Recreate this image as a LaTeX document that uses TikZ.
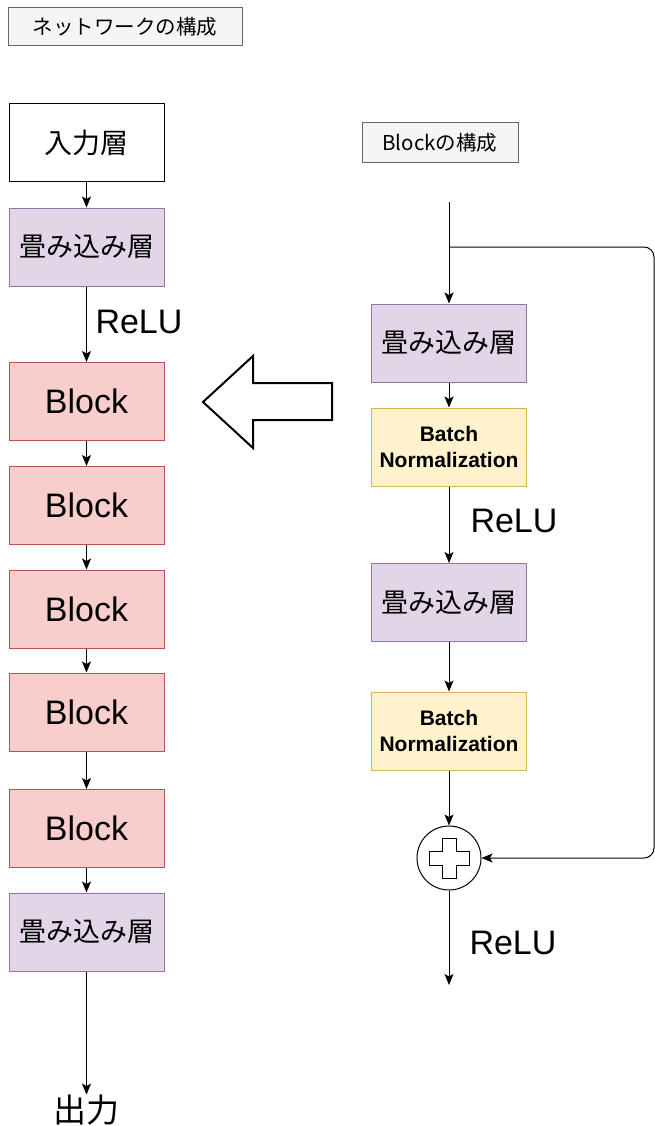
\documentclass[tikz,border=0pt]{standalone}
\usepackage{fontspec}
\setmainfont{Liberation Sans}
\newfontfamily\jp{Noto Sans CJK JP}
\usetikzlibrary{arrows.meta}
\definecolor{convfill}{HTML}{E1D5E7}
\definecolor{convdraw}{HTML}{9673A6}
\definecolor{blkfill}{HTML}{F8CECC}
\definecolor{blkdraw}{HTML}{B85450}
\definecolor{bnfill}{HTML}{FFF2CC}
\definecolor{bndraw}{HTML}{D6B656}
\definecolor{titlefill}{HTML}{F5F5F5}
\definecolor{titledraw}{HTML}{666666}
\tikzset{
  box/.style={draw, line width=1pt, minimum width=155pt, minimum height=78pt, inner sep=0pt, align=center},
  convbox/.style={box, fill=convfill, draw=convdraw, font=\jp\fontsize{27}{30}\selectfont},
  blkbox/.style={box, fill=blkfill, draw=blkdraw, font=\fontsize{34}{40}\selectfont},
  bnbox/.style={box, fill=bnfill, draw=bndraw, font=\bfseries\fontsize{21}{26}\selectfont},
  titlebox/.style={draw=titledraw, fill=titlefill, line width=1pt, inner sep=0pt, font=\jp\fontsize{20.5}{24}\selectfont},
  relu/.style={font=\fontsize{34}{40}\selectfont, inner sep=0pt},
  arr/.style={line width=1pt, -{Stealth[length=11pt,width=9pt,inset=2.5pt]}},
}
\begin{document}
\begin{tikzpicture}[x=1pt,y=-1pt]
\useasboundingbox (0,0) rectangle (655,1126);
% left column
\node[titlebox, minimum width=234pt, minimum height=38pt] (t1) at (125,27) {ネットワークの構成};
\node[box, fill=white, draw=black, font=\jp\fontsize{28}{30}\selectfont] (in) at (86.5,143) {入力層};
\node[convbox] (c1) at (86.5,247) {畳み込み層};
\node[blkbox] (b1) at (86.5,401.5) {Block};
\node[blkbox] (b2) at (86.5,505.5) {Block};
\node[blkbox] (b3) at (86.5,609) {Block};
\node[blkbox] (b4) at (86.5,712) {Block};
\node[blkbox] (b5) at (86.5,828.5) {Block};
\node[convbox] (c2) at (86.5,932) {畳み込み層};
\node[font=\jp\fontsize{33}{36}\selectfont, inner sep=0pt] (out) at (86.5,1110) {出力};
\node[relu] (r1) at (139,322) {ReLU};
\draw[arr] (in) -- (c1);
\draw[arr] (c1) -- (b1);
\draw[arr] (b1) -- (b2);
\draw[arr] (b2) -- (b3);
\draw[arr] (b3) -- (b4);
\draw[arr] (b4) -- (b5);
\draw[arr] (b5) -- (c2);
\draw[arr] (c2.south) -- (out.north);
% big hollow arrow
\draw[line width=2pt, line join=miter] (203,402) -- (253,356) -- (253,383) -- (332,383) -- (332,420) -- (253,420) -- (253,448) -- cycle;
% right column
\node[titlebox, minimum width=156pt, minimum height=40pt] (t2) at (440,143) {Blockの構成};
\node[convbox] (rc1) at (449,343) {畳み込み層};
\node[bnbox] (bn1) at (449,447) {Batch\\Normalization};
\node[convbox] (rc2) at (449,602.5) {畳み込み層};
\node[bnbox] (bn2) at (449,731) {Batch\\Normalization};
\node[circle, draw, line width=1pt, minimum size=64pt, inner sep=0pt] (plus) at (449,858) {};
\draw[line width=1pt] (plus.center) ++(-7,-20) -- ++(14,0) -- ++(0,13) -- ++(13,0) -- ++(0,14) -- ++(-13,0) -- ++(0,13) -- ++(-14,0) -- ++(0,-13) -- ++(-13,0) -- ++(0,-14) -- ++(13,0) -- cycle;
\coordinate (start) at (449,202);
\coordinate (split) at (449,247);
\coordinate (end) at (449,985);
\node[relu] (r2) at (514,521) {ReLU};
\node[relu] (r3) at (513,943) {ReLU};
\draw[arr] (start) -- (rc1);
\draw[arr] (rc1) -- (bn1);
\draw[arr] (bn1) -- (rc2);
\draw[arr] (rc2) -- (bn2);
\draw[arr] (bn2) -- (plus);
\draw[arr] (plus) -- (end);
\draw[arr, rounded corners=10pt] (split) -- (654,247) -- (654,858) -- (plus.east);
\end{tikzpicture}
\end{document}
